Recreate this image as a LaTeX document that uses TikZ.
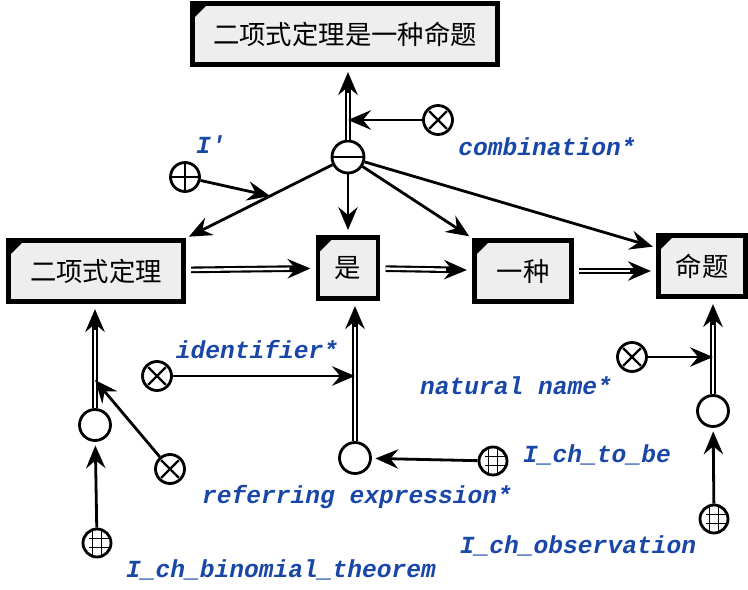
\documentclass[tikz,border=0pt]{standalone}
\usepackage{fontspec}
\newfontfamily\cjk{Noto Sans CJK SC}
\newfontfamily\lblfont{Liberation Mono}
\usetikzlibrary{arrows.meta,calc}
\definecolor{BoxFill}{HTML}{EEEEEE}
\definecolor{LabelBlue}{HTML}{1947A8}

\begin{document}
\begin{tikzpicture}[x=0.02cm,y=-0.02cm,
  concept/.style={draw,line width=2.6pt,fill=BoxFill,minimum height=1.22cm,inner sep=0pt,
    font=\cjk\fontsize{15}{18}\selectfont,
    path picture={\fill[black] (path picture bounding box.north west)
      -- ++(9pt,0) -- ++(-9pt,-9pt) -- cycle;}},
  hole/.style={circle,draw,line width=1.6pt,fill=white,minimum size=0.62cm,inner sep=0pt},
  xhole/.style={hole,minimum size=0.58cm,path picture={
    \draw[line width=1.3pt] (path picture bounding box.center) ++(-5pt,-5pt) -- ++(10pt,10pt)
      ++(-10pt,0) -- ++(10pt,-10pt);}},
  plushole/.style={hole,minimum size=0.58cm,path picture={
    \draw[line width=1.3pt] (path picture bounding box.center) ++(-9pt,0) -- ++(18pt,0)
      ++(-9pt,-9pt) -- ++(0,18pt);}},
  minushole/.style={hole,path picture={
    \draw[line width=1.3pt] (path picture bounding box.center) ++(-9pt,0) -- ++(18pt,0);}},
  gridhole/.style={hole,minimum size=0.56cm,path picture={
    \draw[line width=0.9pt] (path picture bounding box.center)
      ++(-2.6pt,-9pt) -- ++(0,18pt) ++(5.2pt,0) -- ++(0,-18pt)
      ++(-7pt,6.4pt) -- ++(18pt,0) ++(0,5.2pt) -- ++(-18pt,0);}},
  lbl/.style={font=\lblfont\bfseries\itshape\fontsize{14}{16}\selectfont,text=LabelBlue,inner sep=1pt},
  arr/.style={-{Stealth[length=13pt,width=11pt,inset=4.5pt]},line width=1.6pt},
  dbl/.style={-{Stealth[length=13pt,width=11pt,inset=4.5pt]},line width=3.8pt,shorten >=3pt,
    postaction={draw=white,line width=1.4pt,-,shorten >=15pt}}]
  \useasboundingbox (0,0) rectangle (748,589);

  % --- concept boxes ---
  \node[concept,minimum width=6.1cm] (whole) at (345,34) {二项式定理是一种命题};
  \node[concept,minimum width=3.5cm] (bt) at (96,271) {二项式定理};
  \node[concept,minimum width=1.2cm] (shi) at (348,268) {是};
  \node[concept,minimum width=1.94cm] (yz) at (523,271) {一种};
  \node[concept,minimum width=1.74cm] (mt) at (702,266) {命题};

  % --- composition ---
  \node[minushole,minimum size=0.64cm] (rel) at (348,157) {};
  \draw[dbl] (rel) -- (rel |- whole.south);
  \node[xhole] (comb) at (438,120) {};
  \draw[arr] (comb) -- (rel |- comb);
  \node[lbl] (combl) at (547,147) {combination*};
  \draw[arr,shorten >=2pt] (rel) -- (bt.north east);
  \draw[arr,shorten >=3pt] (rel) -- (shi.north);
  \draw[arr,shorten >=2pt] (rel) -- (yz.north west);
  \draw[arr,shorten >=2pt] (rel) -- ($(mt.north west)!0.22!(mt.south west)$);
  \coordinate (onI) at ($(rel)!0.48!(bt.north east)$);
  \node[plushole] (plus) at (185,177) {};
  \draw[arr] (plus) -- (onI);
  \node[lbl] (plusl) at (211,145) {I'};

  % --- sequence ---
  \draw[dbl,shorten <=3pt] (bt) -- (shi);
  \draw[dbl,shorten <=3pt] (shi) -- (yz);
  \draw[dbl,shorten <=3pt] (yz) -- (mt.west |- yz);

  % --- binomial theorem ---
  \node[hole] (o1) at (95,425) {};
  \draw[dbl] (o1) -- (o1 |- bt.south);
  \coordinate (onB) at (95,380);
  \node[xhole] (ref) at (170,469) {};
  \draw[arr] (ref) -- (onB);
  \node[lbl] (refl) at (357,497) {referring expression*};
  \node[gridhole] (g1) at (97,543) {};
  \draw[arr,shorten >=2pt] (g1) -- (o1);
  \node[lbl] (g1l) at (281,570) {I\_ch\_binomial\_theorem};

  % --- to be ---
  \node[hole] (o2) at (355,458) {};
  \draw[dbl] (o2) -- (o2 |- shi.south);
  \node[xhole] (id) at (157,376) {};
  \draw[arr] (id) -- (o2 |- id);
  \node[lbl] (idl) at (257,350) {identifier*};
  \node[gridhole] (g2) at (493,461) {};
  \draw[arr,shorten >=2pt] (g2) -- (o2);
  \node[lbl] (g2l) at (597,455) {I\_ch\_to\_be};

  % --- observation ---
  \node[hole] (o3) at (713,411) {};
  \draw[dbl] (o3) -- (o3 |- mt.south);
  \node[xhole] (nat) at (632,357) {};
  \draw[arr] (nat) -- (o3 |- nat);
  \node[lbl] (natl) at (516,386) {natural name*};
  \node[gridhole] (g3) at (714,519) {};
  \draw[arr,shorten >=2pt] (g3) -- (o3);
  \node[lbl] (g3l) at (578,546) {I\_ch\_observation};
\end{tikzpicture}
\end{document}
